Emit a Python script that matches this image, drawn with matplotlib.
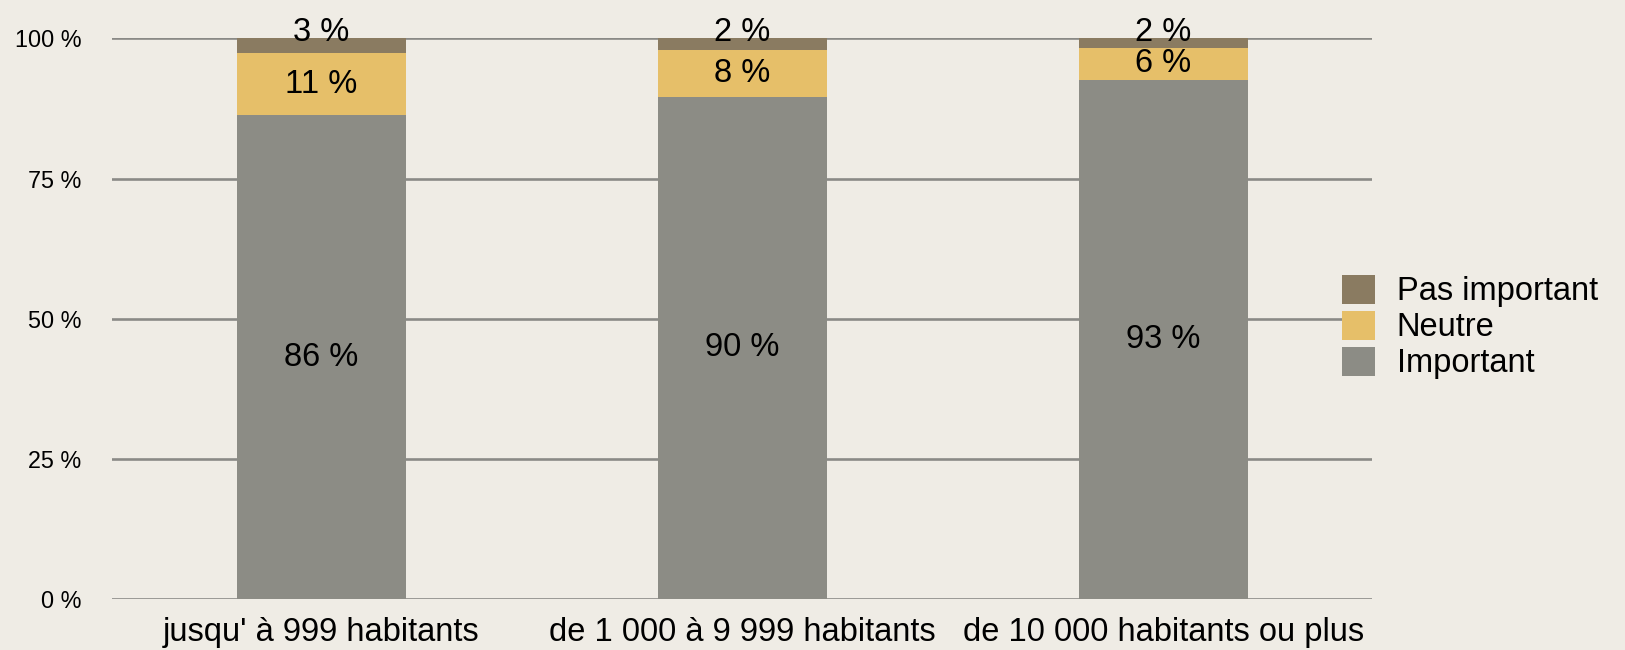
import matplotlib.pyplot as plt
import numpy as np

plt.rcParams['font.family'] = ['Liberation Sans', 'DejaVu Sans']

categories = ["jusqu' à 999 habitants", "de 1 000 à 9 999 habitants", "de 10 000 habitants ou plus"]
important = [86.3, 89.6, 92.6]
neutre = [11.1, 8.4, 5.7]
pas_important = [2.6, 2.0, 1.7]
yticks = [0, 25, 50, 75, 100]

bg = '#efece5'
colors = {'Important': '#8c8c85', 'Neutre': '#e6bf69', 'Pas important': '#8a7b61'}

fig = plt.figure(figsize=(16.25, 6.5), dpi=100, facecolor=bg)
ax = fig.add_axes([0.069, 0.078, 0.775, 0.863], facecolor=bg)

x = np.arange(len(categories))
width = 0.40
series = [('Important', important), ('Neutre', neutre), ('Pas important', pas_important)]

bottom = np.zeros(len(categories))
handles = {}
for name, vals in series:
    vals = np.array(vals)
    h = ax.bar(x, vals, width, bottom=bottom, color=colors[name], zorder=3, label=name)
    handles[name] = h
    for i, v in enumerate(vals):
        yc = bottom[i] + v / 2
        # thin top segment: put its label just above the bar
        if name == 'Pas important' and v < 4:
            yc = bottom[i] + v + 1.0
        ax.text(x[i], yc, f"{round(v):d} %", ha='center', va='center',
                fontsize=23.5, color='black', zorder=5)
    bottom += vals

for t in yticks:
    ax.axhline(t, color='#8a8a86', lw=1.9, zorder=1)

ax.set_xlim(-0.497, 2.494)
ax.set_ylim(0, 100)
ax.set_yticks(yticks)
ax.set_yticklabels([f"{t} %" for t in yticks], fontsize=16.8)
ax.set_xticks(x)
ax.set_xticklabels(categories, fontsize=23.5)
ax.tick_params(axis='y', length=0, pad=22)
ax.tick_params(axis='x', length=0, pad=13)
for s in ax.spines.values():
    s.set_visible(False)

order = ['Pas important', 'Neutre', 'Important']
fig.legend([handles[n] for n in order], order, loc='center left',
           bbox_to_anchor=(0.826, 0.497), frameon=False, fontsize=23.5,
           handlelength=1.0, handleheight=1.0, handletextpad=0.67,
           labelspacing=0.1, borderpad=0, borderaxespad=0)

fig.savefig('out.png', dpi=100, facecolor=bg)
